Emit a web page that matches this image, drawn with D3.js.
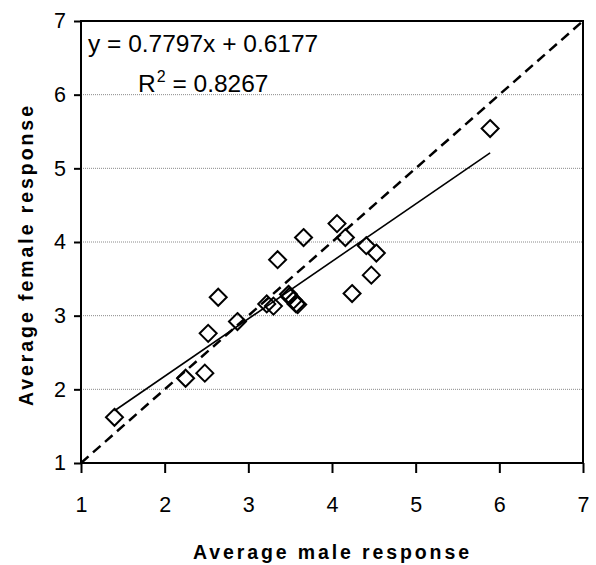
<!DOCTYPE html>
<html>
<head>
<meta charset="utf-8">
<script src="https://cdn.jsdelivr.net/npm/d3@7"></script>
<style>
  html, body { margin: 0; padding: 0; background: #fff; }
  svg { display: block; font-family: "Liberation Sans", Arial, sans-serif; }
</style>
</head>
<body>
<svg id="chart" width="596" height="565"></svg>
<script>
// Data
const maleResponse = [1.40, 2.25, 2.48, 2.52, 2.64, 2.87, 3.22, 3.30, 3.35, 3.48, 3.49, 3.54, 3.57, 3.59, 3.66, 4.06, 4.16, 4.24, 4.41, 4.47, 4.53, 5.89];
const femaleResponse = [1.62, 2.15, 2.22, 2.76, 3.25, 2.92, 3.16, 3.13, 3.76, 3.29, 3.26, 3.21, 3.16, 3.15, 4.06, 4.25, 4.06, 3.30, 3.95, 3.55, 3.85, 5.54];
const slope = 0.7797, intercept = 0.6177, rSquared = 0.8267;
const xTicks = [1, 2, 3, 4, 5, 6, 7];
const yTicks = [1, 2, 3, 4, 5, 6, 7];
const identityLine = [1, 7];
const xTitle = "Average male response";
const yTitle = "Average female response";

(function () {
const svg = d3.select("#chart");
const pLeft = 81, pRight = 583, pTop = 21, pBottom = 463;

const x = d3.scaleLinear().domain([1, 7]).range([pLeft, pRight]);
const y = d3.scaleLinear().domain([1, 7]).range([pBottom, pTop]);

// gridlines
svg.append("g").selectAll("line").data(yTicks.filter(v => v > 1 && v < 7)).join("line")
  .attr("x1", pLeft).attr("x2", pRight)
  .attr("y1", d => y(d)).attr("y2", d => y(d))
  .attr("stroke", "#8a8a8a").attr("stroke-width", 1).attr("stroke-dasharray", "1,1");

// axes
const xAxis = d3.axisBottom(x).tickValues(xTicks).tickSize(10).tickPadding(24).tickFormat(d3.format("d"));
const yAxis = d3.axisLeft(y).tickValues(yTicks).tickSize(7).tickPadding(8).tickFormat(d3.format("d"));

const gx = svg.append("g").attr("transform", `translate(0,${pBottom})`).call(xAxis);
const gy = svg.append("g").attr("transform", `translate(${pLeft},0)`).call(yAxis);
[gx, gy].forEach(g => {
  g.select(".domain").remove();
  g.selectAll(".tick line").attr("stroke", "#000").attr("stroke-width", 2);
  g.selectAll(".tick text").attr("fill", "#000").attr("font-size", 21.5)
    .attr("font-family", "'Liberation Sans', Arial, sans-serif");
});

// plot border
svg.append("rect").attr("x", pLeft).attr("y", pTop)
  .attr("width", pRight - pLeft).attr("height", pBottom - pTop)
  .attr("fill", "none").attr("stroke", "#000").attr("stroke-width", 2);

// markers (diamonds)
const diamond = "M0,-8.5L8.5,0L0,8.5L-8.5,0Z";
svg.append("g").selectAll("path").data(maleResponse.map((m, i) => [m, femaleResponse[i]])).join("path")
  .attr("d", diamond)
  .attr("transform", d => `translate(${x(d[0])},${y(d[1])})`)
  .attr("fill", "none").attr("stroke", "#000").attr("stroke-width", 2);

// identity dashed line
svg.append("line")
  .attr("x1", x(identityLine[0])).attr("y1", y(identityLine[0]))
  .attr("x2", x(identityLine[1])).attr("y2", y(identityLine[1]))
  .attr("stroke", "#000").attr("stroke-width", 2.5).attr("stroke-dasharray", "10,6");

// trendline
const xMin = d3.min(maleResponse), xMax = d3.max(maleResponse);
svg.append("line")
  .attr("x1", x(xMin)).attr("y1", y(slope * xMin + intercept))
  .attr("x2", x(xMax)).attr("y2", y(slope * xMax + intercept))
  .attr("stroke", "#000").attr("stroke-width", 1.6);

// equation labels
svg.append("text").attr("x", 88).attr("y", 52).attr("font-size", 24.5).attr("fill", "#000")
  .text(`y = ${slope}x + ${intercept}`);
const r2 = svg.append("text").attr("x", 138).attr("y", 92).attr("font-size", 24.5).attr("fill", "#000")
  .attr("xml:space", "preserve").style("white-space", "pre");
r2.append("tspan").text("R");
r2.append("tspan").attr("font-size", 16).attr("dy", -10).attr("dx", 1).text("2");
r2.append("tspan").attr("dy", 10).text(` = ${rSquared}`);

// axis titles
svg.append("text").attr("x", (pLeft + pRight) / 2 - 1).attr("y", 559)
  .attr("text-anchor", "middle").attr("font-size", 19.5).attr("font-weight", "bold")
  .attr("textLength", 276).attr("lengthAdjust", "spacing")
  .text(xTitle);
svg.append("text")
  .attr("transform", `translate(33,256) rotate(-90)`)
  .attr("text-anchor", "middle").attr("font-size", 19.5).attr("font-weight", "bold")
  .attr("textLength", 300).attr("lengthAdjust", "spacing")
  .text(yTitle);
})();
</script>
</body>
</html>
